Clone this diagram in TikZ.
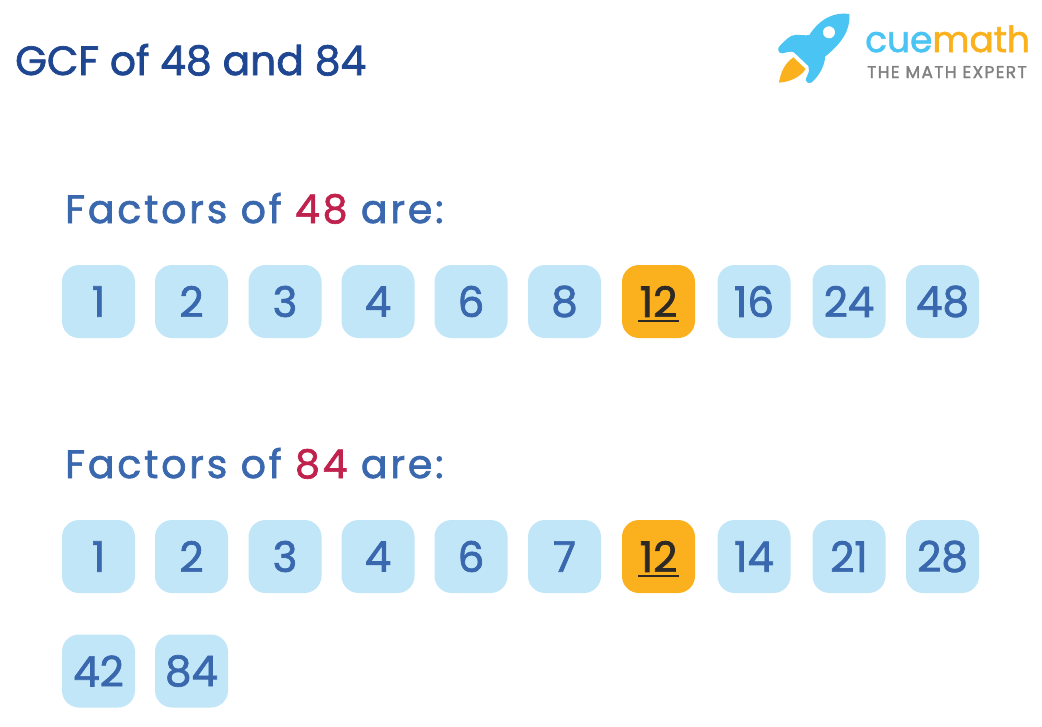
\documentclass[tikz,border=0pt]{standalone}
\usepackage{fontspec}
\setmainfont{Poppins}[FakeBold=1.7]
\definecolor{titleblue}{HTML}{1F4690}
\definecolor{headblue}{HTML}{3A68AE}
\definecolor{numred}{HTML}{C0224D}
\definecolor{boxblue}{HTML}{C1E6F8}
\definecolor{boxorange}{HTML}{FBB01E}
\definecolor{logoblue}{HTML}{4AC4F3}
\definecolor{logogrey}{HTML}{808080}
\definecolor{darknum}{HTML}{2D2A26}
\tikzset{
  x=1pt,y=-1pt,
  numbox/.style={rounded corners=17pt,fill=boxblue,minimum width=73pt,minimum height=73pt,inner sep=0pt,
    text=headblue,font=\fontsize{42}{42}\selectfont},
  hibox/.style={numbox,fill=boxorange,text=darknum},
  head/.style={anchor=base west,inner sep=0pt,text=headblue,font=\fontsize{39.5}{40}\selectfont\addfontfeature{LetterSpace=7}},
  titletext/.style={anchor=base west,inner sep=0pt,text=titleblue,font=\fontsize{40.8}{41}\selectfont},
}
\begin{document}
\begin{tikzpicture}
\useasboundingbox (0,0) rectangle (1042,726);
\fill[white] (0,0) rectangle (1042,726);
\node[titletext] (title) at (15,75) {GCF of 48 and 84};
\node[head] (h1) at (65,223) {Factors of \textcolor{numred}{48} are:};
\node[head] (h2) at (65,478) {Factors of \textcolor{numred}{84} are:};
\foreach \n/\x/\t in {1/98.5/1,2/191.5/2,3/285/3,4/378/4,5/471/6,6/564.5/8,8/754/16,9/849/24,10/942.5/48}
  \node[numbox] (a\n) at (\x,301.5) {\t};
\node[hibox] (a7) at (658.5,301.5) {12};
\foreach \n/\x/\t in {1/98.5/1,2/191.5/2,3/285/3,4/378/4,5/471/6,6/564.5/7,8/754/14,9/849/21,10/942.5/28}
  \node[numbox] (b\n) at (\x,556.5) {\t};
\node[hibox] (b7) at (658.5,556.5) {12};
\node[numbox] (c1) at (98.5,671) {42};
\node[numbox] (c2) at (191.5,671) {84};
\draw[darknum,line width=2pt] ([xshift=-20.5pt,yshift=-19.5pt]a7.center) -- ([xshift=20.5pt,yshift=-19.5pt]a7.center);
\draw[darknum,line width=2pt] ([xshift=-20.5pt,yshift=-19.5pt]b7.center) -- ([xshift=20.5pt,yshift=-19.5pt]b7.center);
% logo
\begin{scope}[shift={(760,0)},x=0.3333pt,y=-0.3333pt]
\fill[boxorange] (57,248) .. controls (62,215) and (75,190) .. (100,172) -- (137,207) .. controls (118,234) and (90,245) .. (57,248) -- cycle;
\fill[logoblue] (268,42) .. controls (272,90) and (245,130) .. (195,170)
  .. controls (195,195) and (178,228) .. (155,247)
  .. controls (145,253) and (135,245) .. (138,235)
  .. controls (148,215) and (150,208) .. (145,198)
  -- (105,160)
  .. controls (100,152) and (85,155) .. (68,160)
  .. controls (55,162) and (50,145) .. (60,137)
  .. controls (75,122) and (90,105) .. (105,105)
  .. controls (120,103) and (135,108) .. (148,105)
  .. controls (180,55) and (225,35) .. (268,42) -- cycle;
\fill[white] (207,97) circle (18);
\end{scope}
\node[anchor=base west,inner sep=0pt,font=\fontsize{36}{36}\selectfont] (logoname) at (865,52) {\textcolor{logoblue}{cue}\textcolor{boxorange}{math}};
\node[anchor=base west,inner sep=0pt,text=logogrey,font=\fontsize{17}{17}\selectfont\addfontfeature{LetterSpace=8}] (logotag) at (867,78) {THE MATH EXPERT};
\end{tikzpicture}
\end{document}
